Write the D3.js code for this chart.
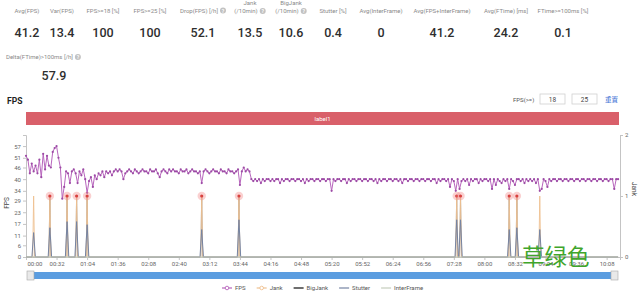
<!DOCTYPE html>
<html>
<head>
<meta charset="utf-8">
<script src="https://cdn.jsdelivr.net/npm/d3@7"></script>
<style>
body{margin:0;background:#fff;}
svg{display:block;font-family:Roboto,"Liberation Sans",sans-serif;}
</style>
</head>
<body>
<div id="view"></div>
<script>
// summary numbers, "|" splits a label on two lines
var statNames=["Avg(FPS)","Var(FPS)","FPS>=18 [%]","FPS>=25 [%]","Drop(FPS) [/h]","Jank|(/10min)","BigJank|(/10min)","Stutter [%]","Avg(InterFrame)","Avg(FPS+InterFrame)","Avg(FTime) [ms]","FTime>=100ms [%]"];
var statValues=["41.2","13.4","100","100","52.1","13.5","10.6","0.4","0","41.2","24.2","0.1"];
var statHelp=[0,0,0,0,1,1,1,0,0,0,0,0];
var stat2Name="Delta(FTime)>100ms [/h]";
var stat2Value="57.9";
var fpsLimits=["18","25"];
var bandLabel="label1";

// fps sampled every 2 s, starting at 00:00
var timeStep=2;
var fpsValues=[
52,50,43,48,44,47,43,50,41,53,
45,52,47,46,54,56,57,51,46,30,
36,44,43,38,44,45,43,38,44,42,
45,40,33,39,41,36,42,40,43,42,
44,41,44,43,44,42,44,45,44,45,
44,40,43,44,45,44,43,45,44,43,
44,45,44,44,43,45,44,44,45,43,
41,44,45,44,43,45,44,45,44,44,
43,45,44,44,45,43,44,45,44,44,
43,44,38,44,45,44,43,44,45,44,
44,43,45,44,44,43,45,44,44,43,
44,45,37,44,46,44,45,44,40,39,
40,39,40,38,40,39,40,40,39,40,
39,40,40,38,40,39,40,40,39,40,
40,39,40,40,39,40,38,40,39,40,
40,39,40,40,39,40,40,39,40,40,
34,40,39,40,40,39,40,40,38,40,
39,40,40,39,40,40,39,40,40,39,
40,40,39,40,38,40,39,40,40,39,
40,40,39,40,40,39,40,38,40,40,
39,40,40,39,40,40,39,40,40,39,
40,40,39,40,40,38,40,39,40,40,
39,40,36,40,39,34,40,35,39,40,
39,40,37,40,39,40,40,38,40,39,
40,40,39,40,35,40,37,40,39,38,
40,39,40,35,40,39,37,40,40,39,
40,38,40,39,40,39,40,38,40,34,
35,40,39,36,40,39,40,40,39,40,
40,39,40,40,39,40,40,39,40,40,
39,40,40,39,40,40,39,40,40,39,
40,40,39,40,40,39,40,40,35,40,
40];
var endTime=620;

// event series (seconds), all other samples are 0
var jankTimes=[8,25,43,53,64,184,223,451,455,506,514,538];
var bigJankTimes=[25,43,53,64,184,223,451,455,506,514];
var stutterValues=[0.4,0.48,0.58,0.58,0.53,0.45,0.61,0.61,0.61,0.45,0.48,0.45];
var interFrameTimes=[];

var xTicks=[0,32,64,96,128,160,192,224,256,288,320,352,384,416,448,480,512,544,576,608];
var fpsTicks=[0,6,11,17,23,29,34,40,46,51,57];
var jankTicks=[0,1,2];
var legendNames=["FPS","Jank","BigJank","Stutter","InterFrame"];
var watermark="草绿色";

var colors={fps:"#b866bd",fpsDot:"#9c4aa5",jank:"#eec191",big:"#4a4a4a",stutter:"#7584a3",inter:"#c4cdbd"};

var width=640,height=293;
var svg=d3.select("#view").append("svg").attr("width",width).attr("height",height);

var plotL=26,plotR=620,plotT=135,plotB=257;
var x=d3.scaleLinear().domain([0,622]).range([plotL,plotR]);
var yFps=d3.scaleLinear().domain([0,62.7]).range([plotB,plotT]);
var yJank=d3.scaleLinear().domain([0,2]).range([plotB,plotT]);

drawStats();
drawHeader();
drawChart();
drawFooter();

function helpIcon(g,cx,cy){
	g.append("circle").attr("cx",cx).attr("cy",cy).attr("r",3).attr("fill","#c2c2c2");
	g.append("text").attr("x",cx).attr("y",cy+2).attr("text-anchor","middle")
		.attr("font-size",5).attr("font-weight",700).attr("fill","#fff").text("?");
}

function drawStats(){
	var statX=[27,62,103,150,203,250,291,333,381,442,506,563];
	var g=svg.append("g").attr("class","stats");
	for(var i=0;i<statNames.length;i++){
		var lines=statNames[i].split("|");
		for(var j=0;j<lines.length;j++){
			var yy=lines.length==2?(j==0?5:13):12.5;
			var last=(j==lines.length-1)&&statHelp[i];
			var t=g.append("text").attr("x",statX[i]-(last?4:0)).attr("y",yy)
				.attr("text-anchor","middle").attr("font-size",6).attr("fill","#8a8a8a").text(lines[j]);
			if(last){
				var w=t.node().getComputedTextLength();
				helpIcon(g,statX[i]-4+w/2+5,yy-2);
			}
		}
		g.append("text").attr("x",statX[i]).attr("y",36.5).attr("text-anchor","middle")
			.attr("font-size",12.5).attr("font-weight",500).attr("fill","#2e2e2e").text(statValues[i]);
	}
	var t2=g.append("text").attr("x",6).attr("y",59).attr("font-size",6).attr("fill","#8a8a8a").text(stat2Name);
	helpIcon(g,6+t2.node().getComputedTextLength()+5,57);
	g.append("text").attr("x",54).attr("y",80).attr("text-anchor","middle")
		.attr("font-size",12.5).attr("font-weight",500).attr("fill","#2e2e2e").text(stat2Value);
}

function drawHeader(){
	var g=svg.append("g");
	g.append("text").attr("x",7).attr("y",104).attr("font-size",8.5).attr("font-weight",700).attr("fill","#222").text("FPS");
	g.append("text").attr("x",513).attr("y",101.5).attr("font-size",6).attr("fill","#555").text("FPS(>=)");
	var box=g.selectAll(".box").data(fpsLimits).enter().append("g").attr("class","box")
		.attr("transform",function(d,i){return "translate("+(540+32*i)+",94)";});
	box.append("rect").attr("width",25).attr("height",10).attr("fill","#fff").attr("stroke","#d0d0d0").attr("stroke-width",0.8);
	box.append("text").attr("x",12.5).attr("y",7.5).attr("text-anchor","middle").attr("font-size",6.5).attr("fill","#444").text(function(d){return d;});
	g.append("text").attr("x",605).attr("y",102).attr("font-size",6.5).attr("fill","#3b6fd4")
		.attr("font-family","'Noto Sans CJK SC',sans-serif").text("重置");
	g.append("rect").attr("x",plotL).attr("y",112).attr("width",593).attr("height",13).attr("fill","#d9606a");
	g.append("text").attr("x",plotL+593/2).attr("y",121).attr("text-anchor","middle").attr("font-size",6).attr("fill","#fff").text(bandLabel);
}

function sparse(times,values,half){
	var pts=[[0,0]];
	for(var i=0;i<times.length;i++){
		pts.push([times[i]-half,0]);
		pts.push([times[i],values?values[i]:1]);
		pts.push([times[i]+half,0]);
	}
	pts.push([endTime,0]);
	return pts;
}

function mmss(s){
	return d3.format("02")(Math.floor(s/60))+":"+d3.format("02")(s%60);
}

function drawChart(){
	var g=svg.append("g").attr("class","chart");

	var xa=g.append("g").attr("transform","translate(0,"+plotB+")")
		.call(d3.axisBottom(x).tickValues(xTicks).tickFormat(mmss).tickSize(3).tickPadding(2));
	var ya=g.append("g").attr("transform","translate("+plotL+",0)")
		.call(d3.axisLeft(yFps).tickValues(fpsTicks).tickSize(3).tickPadding(2));
	var yr=g.append("g").attr("transform","translate("+plotR+",0)")
		.call(d3.axisRight(yJank).tickValues(jankTicks).tickFormat(d3.format("d")).tickSize(3).tickPadding(2));
	[xa,ya,yr].forEach(function(a){
		a.select(".domain").attr("stroke","#c4c4c4");
		a.selectAll(".tick line").attr("stroke","#c4c4c4");
		a.selectAll("text").attr("fill","#666").attr("font-size",6).attr("font-family","Roboto,sans-serif");
	});
	xa.selectAll(".tick").filter(function(d){return d==0;}).select("text").attr("text-anchor","start").attr("x",1);

	g.append("text").attr("transform","translate(9,203) rotate(-90)").attr("text-anchor","middle")
		.attr("font-size",6.5).attr("fill","#444").text("FPS");
	g.append("text").attr("transform","translate(632,189) rotate(90)").attr("text-anchor","middle")
		.attr("font-size",6.5).attr("fill","#444").text("Jank");

	var lineJ=d3.line().x(function(d){return x(d[0]);}).y(function(d){return yJank(d[1]);});
	g.append("path").attr("d",lineJ(sparse(bigJankTimes,null,1))).attr("fill","none").attr("stroke",colors.big).attr("stroke-width",0.8).attr("opacity",0.6);
	g.append("path").attr("d",lineJ(sparse(jankTimes,null,1))).attr("fill","none").attr("stroke",colors.jank).attr("stroke-width",0.9);
	g.append("path").attr("d",lineJ(sparse(jankTimes,stutterValues,1.8))).attr("fill","none").attr("stroke",colors.stutter).attr("stroke-width",1);
	g.append("path").attr("d",lineJ(sparse(interFrameTimes,null,1))).attr("fill","none").attr("stroke",colors.inter).attr("stroke-width",1);

	var fps=fpsValues.map(function(v,i){return [i*timeStep,v];});
	var lineF=d3.line().x(function(d){return x(d[0]);}).y(function(d){return yFps(d[1]);});
	g.append("path").datum(fps).attr("d",lineF).attr("fill","none").attr("stroke",colors.fps).attr("stroke-width",1);
	g.append("g").selectAll("circle").data(fps).enter().append("circle")
		.attr("cx",function(d){return x(d[0]);}).attr("cy",function(d){return yFps(d[1]);})
		.attr("r",1.1).attr("fill",colors.fpsDot);

	var mk=g.append("g").selectAll("g").data(bigJankTimes).enter().append("g")
		.attr("transform",function(d){return "translate("+x(d)+","+yJank(1)+")";});
	mk.append("circle").attr("r",4.2).attr("fill","#f28a8a").attr("opacity",0.4);
	mk.append("circle").attr("r",1.6).attr("fill","#d8413f");
}

function drawFooter(){
	var g=svg.append("g");
	g.append("rect").attr("x",30).attr("y",272).attr("width",586).attr("height",7).attr("fill","#5b9de0");
	[27,611].forEach(function(hx){
		g.append("rect").attr("x",hx).attr("y",271).attr("width",7).attr("height",9).attr("fill","#e9e9e9").attr("stroke","#a8a8a8").attr("stroke-width",0.6);
	});

	var lc=[colors.fps,colors.jank,colors.big,colors.stutter,colors.inter];
	var dots=[1,1,0,0,0];
	var lg=g.append("g").attr("transform","translate(0,288)");
	var xx=222;
	legendNames.forEach(function(n,i){
		lg.append("line").attr("x1",xx).attr("x2",xx+10).attr("y1",0).attr("y2",0).attr("stroke",lc[i]).attr("stroke-width",i==2?1.6:1.2);
		if(dots[i]){lg.append("circle").attr("cx",xx+5).attr("cy",0).attr("r",1.8).attr("fill","#fff").attr("stroke",lc[i]).attr("stroke-width",0.9);}
		var t=lg.append("text").attr("x",xx+13).attr("y",2.2).attr("font-size",6).attr("fill","#555").text(n);
		xx+=13+t.node().getComputedTextLength()+11;
	});

	svg.append("text").attr("x",522).attr("y",265).attr("font-size",22.5)
		.attr("font-family","'Noto Sans CJK SC',sans-serif").attr("fill","#3fa52c").text(watermark);
}
</script>
</body>
</html>
